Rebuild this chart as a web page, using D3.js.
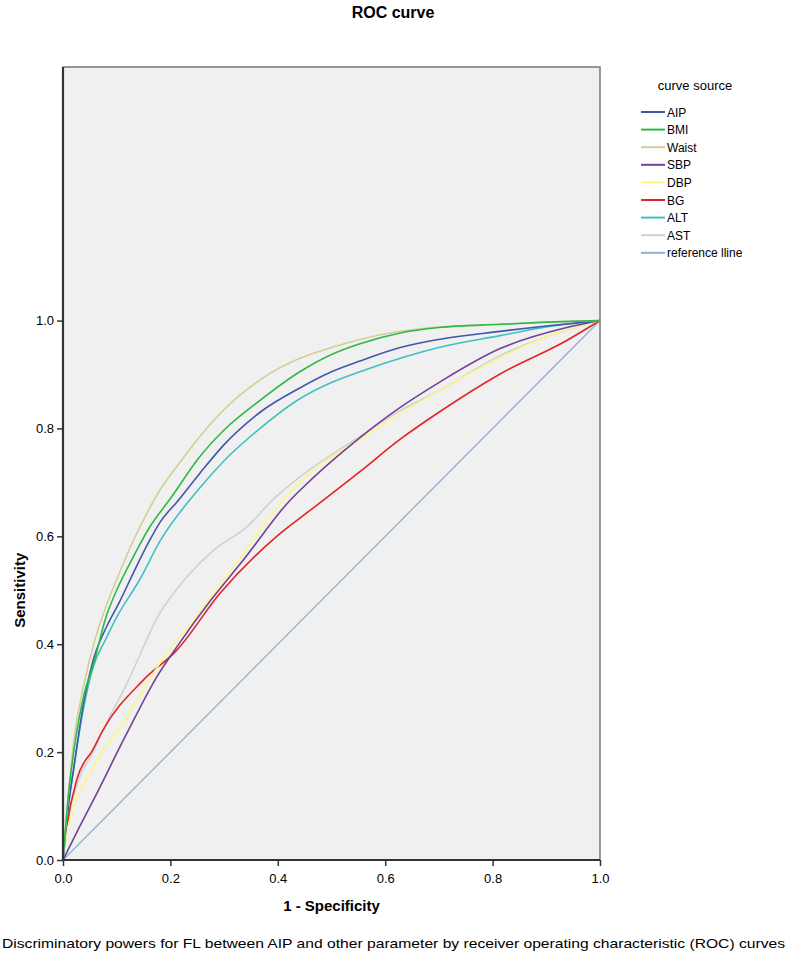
<!DOCTYPE html>
<html>
<head>
<meta charset="utf-8">
<script src="https://cdn.jsdelivr.net/npm/d3@7"></script>
<style>
  body { margin: 0; background: #fff; }
  text { font-family: "Liberation Sans", Arial, sans-serif; fill: #000; }
</style>
</head>
<body>
<script>
// series names and colours (SPSS defaults)
var seriesNames = ["AIP", "BMI", "Waist", "SBP", "DBP", "BG", "ALT", "AST", "reference lline"];
var seriesColors = ["#3e58ac", "#2eb848", "#d3ce97", "#753f98", "#fbf787", "#e12526", "#42bfc4", "#d0d0d0", "#8fb0d3"];

// [1 - specificity, sensitivity]
var aip = [[0,0],[0.01,0.1],[0.02,0.17],[0.04,0.3],[0.056,0.37],[0.08,0.43],[0.106,0.48],[0.13,0.53],[0.16,0.59],[0.18,0.625],[0.215,0.667],[0.255,0.717],[0.3,0.77],[0.367,0.83],[0.441,0.875],[0.5,0.905],[0.553,0.925],[0.628,0.95],[0.7,0.965],[0.814,0.98],[0.9,0.99],[1,1]];
var bmi = [[0,0],[0.01,0.12],[0.02,0.2],[0.04,0.31],[0.056,0.36],[0.08,0.45],[0.1,0.5],[0.13,0.56],[0.16,0.615],[0.2,0.67],[0.255,0.748],[0.3,0.797],[0.367,0.852],[0.441,0.905],[0.5,0.937],[0.553,0.957],[0.628,0.977],[0.7,0.987],[0.814,0.993],[0.9,0.997],[1,1]];
var waist = [[0,0],[0.01,0.12],[0.02,0.22],[0.04,0.33],[0.06,0.41],[0.08,0.47],[0.1,0.52],[0.13,0.59],[0.16,0.65],[0.18,0.685],[0.22,0.74],[0.255,0.785],[0.3,0.835],[0.367,0.89],[0.441,0.93],[0.5,0.95],[0.553,0.965],[0.628,0.98],[0.7,0.988],[0.814,0.993],[0.9,0.997],[1,1]];
var sbp = [[0,0],[0.03,0.06],[0.056,0.11],[0.119,0.235],[0.175,0.34],[0.212,0.395],[0.274,0.48],[0.335,0.555],[0.423,0.667],[0.441,0.685],[0.553,0.783],[0.628,0.839],[0.7,0.885],[0.814,0.948],[0.938,0.987],[1,1]];
var dbp = [[0,0],[0.007,0.05],[0.056,0.17],[0.119,0.265],[0.18,0.364],[0.242,0.444],[0.317,0.543],[0.41,0.667],[0.441,0.7],[0.553,0.78],[0.628,0.827],[0.7,0.87],[0.814,0.931],[0.9,0.97],[1,1]];
var bg = [[0,0],[0.007,0.06],[0.026,0.15],[0.056,0.205],[0.074,0.24],[0.149,0.333],[0.212,0.389],[0.292,0.494],[0.398,0.6],[0.46,0.648],[0.553,0.72],[0.628,0.78],[0.7,0.83],[0.814,0.901],[0.938,0.963],[1,1]];
var alt = [[0,0],[0.01,0.1],[0.02,0.17],[0.04,0.29],[0.056,0.357],[0.08,0.41],[0.1,0.45],[0.143,0.52],[0.18,0.59],[0.255,0.69],[0.3,0.74],[0.367,0.8],[0.441,0.855],[0.5,0.885],[0.553,0.905],[0.628,0.93],[0.7,0.95],[0.814,0.972],[0.9,0.988],[1,1]];
var ast = [[0,0],[0.007,0.06],[0.03,0.15],[0.056,0.2],[0.074,0.24],[0.119,0.327],[0.18,0.457],[0.23,0.524],[0.28,0.574],[0.342,0.617],[0.39,0.667],[0.441,0.71],[0.553,0.785],[0.628,0.833],[0.7,0.87],[0.814,0.935],[0.9,0.97],[1,1]];
var refLine = [[0,0],[1,1]];

var seriesData = [aip, bmi, waist, sbp, dbp, bg, alt, ast, refLine];
var tickValues = [0, 0.2, 0.4, 0.6, 0.8, 1.0];

var width = 787, height = 958;
var plotLeft = 63, plotRight = 600, plotTop = 67, plotBottom = 860;

var svg = d3.select("body").append("svg")
    .attr("width", width)
    .attr("height", height);

var x = d3.scaleLinear().domain([0, 1]).range([plotLeft, plotRight]);
var y = d3.scaleLinear().domain([0, 1.47]).range([plotBottom, plotTop]);

// plot background + frame
svg.append("rect")
    .attr("x", plotLeft).attr("y", plotTop)
    .attr("width", plotRight - plotLeft).attr("height", plotBottom - plotTop)
    .attr("fill", "#f0f0f0")
    .attr("stroke", "#777").attr("stroke-width", 1.5);

var line = d3.line()
    .curve(d3.curveMonotoneX)
    .x(function(d){ return x(d[0]); })
    .y(function(d){ return y(d[1]); });

// draw reference line first, then curves in reverse legend order
var order = [8, 7, 6, 5, 4, 3, 0, 2, 1];
order.forEach(function(i){
    svg.append("path")
        .datum(seriesData[i])
        .attr("d", line)
        .attr("fill", "none")
        .attr("stroke", seriesColors[i])
        .attr("stroke-width", i == 8 ? 1.3 : 1.6)
        .attr("stroke-linejoin", "round");
});

// axes
var xAxis = d3.axisBottom(x).tickValues(tickValues).tickFormat(d3.format(".1f")).tickSizeOuter(0).tickSize(6);
var yAxis = d3.axisLeft(y).tickValues(tickValues).tickFormat(d3.format(".1f")).tickSizeOuter(0).tickSize(6);

var gx = svg.append("g")
    .attr("transform", "translate(0," + plotBottom + ")")
    .call(xAxis);
gx.select(".domain").attr("d", "M" + plotLeft + ",0H" + plotRight);
var gy = svg.append("g")
    .attr("transform", "translate(" + plotLeft + ",0)")
    .call(yAxis);
gy.select(".domain").attr("d", "M0," + plotTop + "V" + plotBottom);

[gx, gy].forEach(function(g){
    g.select(".domain").attr("stroke", "#333").attr("stroke-width", 2.2);
    g.selectAll(".tick line").attr("stroke", "#333").attr("stroke-width", 1.5);
    g.selectAll(".tick text")
        .attr("font-family", "Liberation Sans, Arial, sans-serif")
        .attr("font-size", 13)
        .attr("fill", "#222");
});
gx.selectAll(".tick text").attr("dy", "1.05em");
gy.selectAll(".tick text").attr("x", -9);

// titles
svg.append("text")
    .attr("x", 393).attr("y", 18)
    .attr("text-anchor", "middle")
    .attr("font-size", 16).attr("font-weight", "bold")
    .text("ROC curve");

svg.append("text")
    .attr("x", (plotLeft + plotRight) / 2).attr("y", 911)
    .attr("text-anchor", "middle")
    .attr("font-size", 15).attr("font-weight", "bold")
    .text("1 - Specificity");

svg.append("text")
    .attr("transform", "translate(25," + y(0.5) + ") rotate(-90)")
    .attr("text-anchor", "middle")
    .attr("font-size", 15).attr("font-weight", "bold")
    .text("Sensitivity");

// legend
var legend = svg.append("g");
legend.append("text")
    .attr("x", 695).attr("y", 90)
    .attr("text-anchor", "middle")
    .attr("font-size", 13)
    .attr("fill", "#222")
    .text("curve source");

var items = legend.selectAll("g.item")
    .data(seriesNames)
    .enter().append("g")
    .attr("class", "item")
    .attr("transform", function(d, i){ return "translate(0," + (112 + i * 17.6) + ")"; });

items.append("line")
    .attr("x1", 641).attr("x2", 665)
    .attr("y1", 0).attr("y2", 0)
    .attr("stroke", function(d, i){ return seriesColors[i]; })
    .attr("stroke-width", 2);

items.append("text")
    .attr("x", 667).attr("y", 4.5)
    .attr("font-size", 12)
    .attr("fill", "#222")
    .text(function(d){ return d; });

// caption
svg.append("text")
    .attr("x", 2).attr("y", 948)
    .attr("font-size", 13)
    .attr("textLength", 783)
    .attr("lengthAdjust", "spacingAndGlyphs")
    .text("Discriminatory powers for FL between AIP and other parameter by receiver operating characteristic (ROC) curves");
</script>
</body>
</html>
